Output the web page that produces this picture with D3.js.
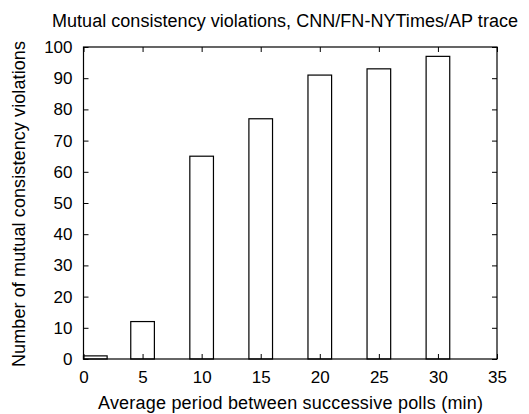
<!DOCTYPE html>
<html>
<head>
<meta charset="utf-8">
<script src="https://cdn.jsdelivr.net/npm/d3@7"></script>
<style>
  body { margin: 0; background: #fff; }
  text { font-family: "Liberation Sans", Arial, sans-serif; fill: #000; }
</style>
</head>
<body>
<svg width="529" height="414"></svg>
<script>
// data
let periods = [1, 5, 10, 15, 20, 25, 30];
let violations = [1, 12, 65, 77, 91, 93, 97];
let xTicks = [0, 5, 10, 15, 20, 25, 30, 35];
let yTicks = [0, 10, 20, 30, 40, 50, 60, 70, 80, 90, 100];

let svg = d3.select("svg");
let padL = 83.5, padR = 497, padT = 47, padB = 359;
let tick = 5;

let x = d3.scaleLinear().domain([0, 35]).range([padL, padR]);
let y = d3.scaleLinear().domain([0, 100]).range([padB, padT]);

let g = svg.append("g");

// bars, 2 units wide
g.selectAll("rect.bar")
  .data(periods)
  .enter().append("rect")
  .attr("class", "bar")
  .attr("x", d => x(d - 1))
  .attr("width", d => x(d + 1) - x(d - 1))
  .attr("y", (d, i) => y(violations[i]))
  .attr("height", (d, i) => y(0) - y(violations[i]))
  .style("fill", "none")
  .style("stroke", "#000")
  .style("stroke-width", 1.2);

// axes with inward ticks, mirrored on opposite sides
let fs = 17;
let xa = svg.append("g").attr("transform", "translate(0," + padB + ")")
  .call(d3.axisBottom(x).tickValues(xTicks).tickSize(-tick).tickPadding(12).tickFormat(d3.format("d")));
let xt = svg.append("g").attr("transform", "translate(0," + padT + ")")
  .call(d3.axisTop(x).tickValues(xTicks).tickSize(-tick).tickFormat(""));
let ya = svg.append("g").attr("transform", "translate(" + padL + ",0)")
  .call(d3.axisLeft(y).tickValues(yTicks).tickSize(-tick).tickPadding(11).tickFormat(d3.format("d")));
let yr = svg.append("g").attr("transform", "translate(" + padR + ",0)")
  .call(d3.axisRight(y).tickValues(yTicks).tickSize(-tick).tickFormat(""));

[xa, xt, ya, yr].forEach(a => {
  a.select(".domain").remove();
  a.selectAll("line").attr("stroke", "#000").attr("stroke-width", 1);
  a.selectAll("text").style("font-size", fs + "px")
    .style("font-family", "'Liberation Sans', Arial, sans-serif");
});

// frame
svg.append("rect")
  .attr("x", padL).attr("y", padT)
  .attr("width", padR - padL).attr("height", padB - padT)
  .style("fill", "none").style("stroke", "#000").style("stroke-width", 1.2);

// labels are a bit wider than Arial in the original, so stretch them
let ls = 18;
svg.append("text")
  .attr("x", 52).attr("y", 27)
  .attr("textLength", 466).attr("lengthAdjust", "spacing")
  .style("font-size", ls + "px")
  .text("Mutual consistency violations, CNN/FN-NYTimes/AP trace");

svg.append("text")
  .attr("x", 98).attr("y", 409)
  .attr("textLength", 385).attr("lengthAdjust", "spacing")
  .style("font-size", ls + "px")
  .text("Average period between successive polls (min)");

svg.append("text")
  .attr("transform", "translate(25,367) rotate(-90)")
  .attr("textLength", 326).attr("lengthAdjust", "spacing")
  .style("font-size", ls + "px")
  .text("Number of mutual consistency violations");
</script>
</body>
</html>
